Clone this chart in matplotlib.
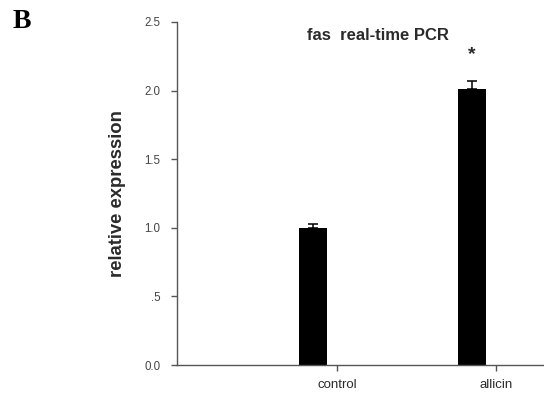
import matplotlib
matplotlib.use("Agg")
import matplotlib.pyplot as plt

categories = ["control", "allicin"]
values = [1.00, 2.01]
errors = [0.026, 0.06]
ytick_vals = [0.0, 0.5, 1.0, 1.5, 2.0, 2.5]
ytick_labels = ["0.0", ".5", "1.0", "1.5", "2.0", "2.5"]

W, H = 544, 397
fig = plt.figure(figsize=(W / 100, H / 100), dpi=100)
L, R, B, T = 177, 544, 365, 22
ax = fig.add_axes([L / W, 1 - B / H, (R - L) / W, (B - T) / H])

plt.rcParams['font.family'] = ['Liberation Sans', 'DejaVu Sans']
txt_col = "#2a2a2a"
sp_col = "#555555"

xpos = [1, 2]
offset = -0.15
bar_x = [x + offset for x in xpos]
ax.bar(bar_x, values, width=0.18, color="black", edgecolor="black", linewidth=0)
ax.errorbar(bar_x, values, yerr=[[0, 0], errors], fmt="none", ecolor="black",
            elinewidth=1.1, capsize=3.3, capthick=1.1)

ax.set_xlim(-0.006, 2.302)
ax.set_ylim(0, 2.5)
ax.set_xticks(xpos)
ax.set_xticklabels(categories, fontsize=9.5, color=txt_col, family='Liberation Sans')
ax.set_yticks(ytick_vals)
ax.set_yticklabels(ytick_labels, fontsize=8.3, color="#444444", family='Liberation Sans')
ax.tick_params(axis='y', direction='out', length=4, width=1, color=sp_col, pad=8)
ax.tick_params(axis='x', direction='out', length=4, width=1, color=sp_col, pad=6)

for s in ["top", "right"]:
    ax.spines[s].set_visible(False)
for s in ["left", "bottom"]:
    ax.spines[s].set_color(sp_col)
    ax.spines[s].set_linewidth(1.0)

ax.set_ylabel("relative expression", fontsize=13.3, fontweight='bold', color=txt_col,
              family='Liberation Sans')
ax.yaxis.set_label_coords(-0.139, 0.5)

# significance marker above allicin bar
ax.text(bar_x[1], values[1] + errors[1] + 0.19, "*", ha='center', va='center',
        fontsize=14, fontweight='bold', color=txt_col)

fig.text(378 / W, 1 - 35 / H, "fas  real-time PCR", ha='center', va='center',
         fontsize=12, fontweight='bold', color=txt_col, family='Liberation Sans')
fig.text(13 / W, 1 - 21 / H, "B", ha='left', va='center', fontsize=20,
         fontweight='bold', family='Liberation Serif', color="black")

fig.savefig("out.png", dpi=100)
